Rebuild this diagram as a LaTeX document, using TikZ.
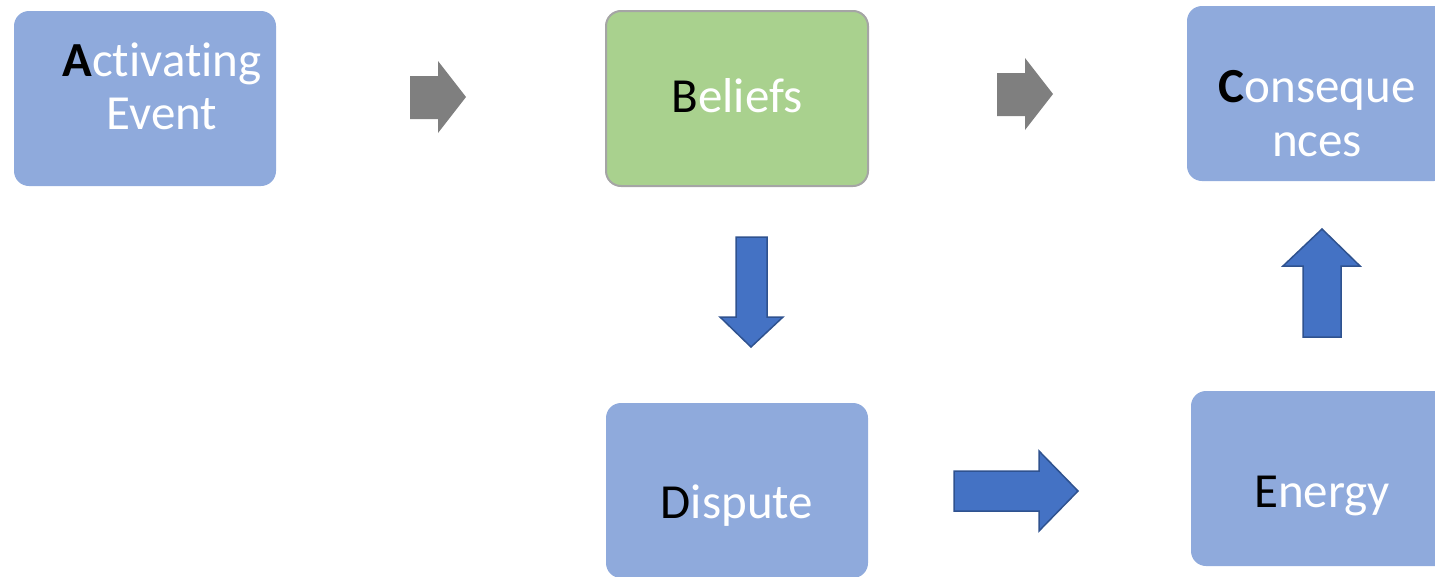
\documentclass[tikz,border=0pt]{standalone}
\usepackage{fontspec}
\setmainfont[Ligatures={NoCommon}]{Carlito}
\definecolor{boxblue}{HTML}{8FAADC}
\definecolor{boxgreen}{HTML}{A9D18E}
\definecolor{greenedge}{HTML}{A5A5A5}
\definecolor{arrgray}{HTML}{7F7F7F}
\definecolor{arrblue}{HTML}{4472C4}
\definecolor{arredge}{HTML}{2F528F}
\tikzset{
  box/.style={rounded corners=15pt, minimum width=262pt, minimum height=175pt, inner sep=0pt, fill=boxblue},
  lbl/.style={anchor=base, inner sep=0pt, text=white, font=\fontsize{49}{53}\selectfont},
  grayarrow/.style={fill=arrgray},
  bluearrow/.style={fill=arrblue, draw=arredge, line width=1.5pt, line join=miter}
}
\begin{document}
\begin{tikzpicture}[x=1pt,y=-1pt]
\useasboundingbox (0,0) rectangle (1435,576);
\clip (0,0) rectangle (1435,576);
% boxes
\node[box] (A) at (145,98.5) {};
\node[box, fill=boxgreen, draw=greenedge, line width=2pt] (B) at (737,98.5) {};
\node[box] (C) at (1318,93.5) {};
\node[box] (D) at (737,490.5) {};
\node[box] (E) at (1322,478.5) {};
% labels
\node[lbl] (A1) at (162,76) {\textcolor{black}{\textbf{A}}ctivating};
\node[lbl] (A2) at (162,129) {Event};
\node[lbl] (B1) at (737,112) {\textcolor{black}{B}eliefs};
\node[lbl] (C1) at (1317,102) {\textcolor{black}{\textbf{C}}onseque};
\node[lbl] (C2) at (1317,156) {nces};
\node[lbl] (D1) at (737,518) {\textcolor{black}{D}ispute};
\node[lbl] (E1) at (1322,507) {\textcolor{black}{E}nergy};
% gray arrows
\fill[grayarrow] (410,76) -- (438,76) -- (438,61) -- (466,97) -- (438,133) -- (438,119) -- (410,119) -- cycle;
\fill[grayarrow] (997,73) -- (1025,73) -- (1025,58) -- (1053,94) -- (1025,130) -- (1025,116) -- (997,116) -- cycle;
% blue arrows
\draw[bluearrow] (736,237) -- (767,237) -- (767,317) -- (783,317) -- (751,347) -- (720,317) -- (736,317) -- cycle;
\draw[bluearrow] (954,471) -- (1039,471) -- (1039,451) -- (1078,491) -- (1039,531) -- (1039,511) -- (954,511) -- cycle;
\draw[bluearrow] (1322,229) -- (1360,266) -- (1341,266) -- (1341,337) -- (1303,337) -- (1303,266) -- (1283,266) -- cycle;
\end{tikzpicture}
\end{document}
